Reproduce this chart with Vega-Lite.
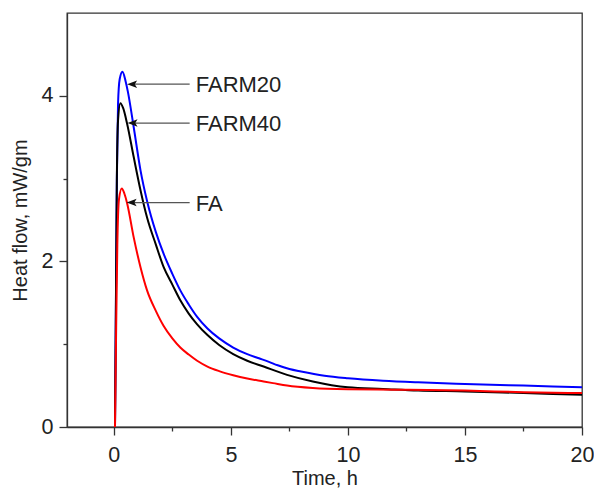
{
  "$schema": "https://vega.github.io/schema/vega-lite/v6.json",
  "width": 515,
  "height": 414,
  "autosize": "none",
  "padding": {"left": 67, "top": 13, "right": 12, "bottom": 62},
  "background": "white",
  "config": {
    "view": {"stroke": "#333", "strokeWidth": 1.3},
    "font": "Liberation Sans",
    "axis": {
      "grid": false,
      "domainColor": "#333",
      "domainWidth": 1.3,
      "tickColor": "#333",
      "tickWidth": 1.3,
      "labelColor": "#222",
      "titleColor": "#222",
      "labelFont": "Liberation Sans",
      "titleFont": "Liberation Sans",
      "labelFontSize": 21.5,
      "titleFontSize": 20,
      "titleFontWeight": "normal"
    }
  },
  "datasets": {
    "curves": [
      {"s": "FARM20", "t": 0.05, "v": 0}, {"s": "FARM20", "t": 0.09, "v": 1.5}, {"s": "FARM20", "t": 0.13, "v": 3.0}, {"s": "FARM20", "t": 0.18, "v": 3.9}, {"s": "FARM20", "t": 0.25, "v": 4.2}, {"s": "FARM20", "t": 0.37, "v": 4.29}, {"s": "FARM20", "t": 0.5, "v": 4.18}, {"s": "FARM20", "t": 0.6, "v": 4.05}, {"s": "FARM20", "t": 0.85, "v": 3.62}, {"s": "FARM20", "t": 1.14, "v": 3.10}, {"s": "FARM20", "t": 1.42, "v": 2.73}, {"s": "FARM20", "t": 1.8, "v": 2.35}, {"s": "FARM20", "t": 2.13, "v": 2.09}, {"s": "FARM20", "t": 2.5, "v": 1.85}, {"s": "FARM20", "t": 2.84, "v": 1.65}, {"s": "FARM20", "t": 3.2, "v": 1.48}, {"s": "FARM20", "t": 3.56, "v": 1.33}, {"s": "FARM20", "t": 4.0, "v": 1.19}, {"s": "FARM20", "t": 4.5, "v": 1.07}, {"s": "FARM20", "t": 5.1, "v": 0.96}, {"s": "FARM20", "t": 5.7, "v": 0.88}, {"s": "FARM20", "t": 6.2, "v": 0.83}, {"s": "FARM20", "t": 6.6, "v": 0.79}, {"s": "FARM20", "t": 7.0, "v": 0.745}, {"s": "FARM20", "t": 7.5, "v": 0.70}, {"s": "FARM20", "t": 8.0, "v": 0.67}, {"s": "FARM20", "t": 9.0, "v": 0.62}, {"s": "FARM20", "t": 10.0, "v": 0.59}, {"s": "FARM20", "t": 11.5, "v": 0.56}, {"s": "FARM20", "t": 13.0, "v": 0.54}, {"s": "FARM20", "t": 15.0, "v": 0.52}, {"s": "FARM20", "t": 17.5, "v": 0.50}, {"s": "FARM20", "t": 20.0, "v": 0.48},
      {"s": "FARM40", "t": 0.05, "v": 0}, {"s": "FARM40", "t": 0.09, "v": 1.5}, {"s": "FARM40", "t": 0.13, "v": 3.0}, {"s": "FARM40", "t": 0.18, "v": 3.7}, {"s": "FARM40", "t": 0.28, "v": 3.91}, {"s": "FARM40", "t": 0.4, "v": 3.85}, {"s": "FARM40", "t": 0.57, "v": 3.66}, {"s": "FARM40", "t": 0.85, "v": 3.26}, {"s": "FARM40", "t": 1.14, "v": 2.86}, {"s": "FARM40", "t": 1.42, "v": 2.53}, {"s": "FARM40", "t": 1.8, "v": 2.2}, {"s": "FARM40", "t": 2.13, "v": 1.93}, {"s": "FARM40", "t": 2.5, "v": 1.72}, {"s": "FARM40", "t": 2.84, "v": 1.53}, {"s": "FARM40", "t": 3.2, "v": 1.37}, {"s": "FARM40", "t": 3.56, "v": 1.24}, {"s": "FARM40", "t": 4.0, "v": 1.11}, {"s": "FARM40", "t": 4.5, "v": 0.99}, {"s": "FARM40", "t": 5.1, "v": 0.88}, {"s": "FARM40", "t": 5.7, "v": 0.80}, {"s": "FARM40", "t": 6.4, "v": 0.73}, {"s": "FARM40", "t": 7.4, "v": 0.63}, {"s": "FARM40", "t": 8.5, "v": 0.55}, {"s": "FARM40", "t": 10.0, "v": 0.48}, {"s": "FARM40", "t": 11.5, "v": 0.46}, {"s": "FARM40", "t": 13.0, "v": 0.44}, {"s": "FARM40", "t": 15.0, "v": 0.43}, {"s": "FARM40", "t": 17.5, "v": 0.41}, {"s": "FARM40", "t": 20.0, "v": 0.39},
      {"s": "FA", "t": 0.05, "v": 0}, {"s": "FA", "t": 0.1, "v": 1.2}, {"s": "FA", "t": 0.15, "v": 2.2}, {"s": "FA", "t": 0.22, "v": 2.75}, {"s": "FA", "t": 0.34, "v": 2.88}, {"s": "FA", "t": 0.45, "v": 2.82}, {"s": "FA", "t": 0.57, "v": 2.70}, {"s": "FA", "t": 0.85, "v": 2.29}, {"s": "FA", "t": 1.14, "v": 1.93}, {"s": "FA", "t": 1.42, "v": 1.65}, {"s": "FA", "t": 1.8, "v": 1.40}, {"s": "FA", "t": 2.13, "v": 1.22}, {"s": "FA", "t": 2.5, "v": 1.07}, {"s": "FA", "t": 2.84, "v": 0.96}, {"s": "FA", "t": 3.2, "v": 0.875}, {"s": "FA", "t": 3.56, "v": 0.80}, {"s": "FA", "t": 4.0, "v": 0.73}, {"s": "FA", "t": 4.5, "v": 0.675}, {"s": "FA", "t": 5.1, "v": 0.625}, {"s": "FA", "t": 5.7, "v": 0.585}, {"s": "FA", "t": 6.4, "v": 0.55}, {"s": "FA", "t": 6.8, "v": 0.53}, {"s": "FA", "t": 7.4, "v": 0.50}, {"s": "FA", "t": 8.5, "v": 0.47}, {"s": "FA", "t": 10.0, "v": 0.455}, {"s": "FA", "t": 12.0, "v": 0.45}, {"s": "FA", "t": 15.0, "v": 0.44}, {"s": "FA", "t": 17.5, "v": 0.42}, {"s": "FA", "t": 20.0, "v": 0.41}
    ],
    "labels": [
      {"label": "FARM20", "tip": 0.78, "end": 3.24, "tx": 3.5, "y": 4.14},
      {"label": "FARM40", "tip": 0.8, "end": 3.24, "tx": 3.5, "y": 3.67},
      {"label": "FA", "tip": 0.76, "end": 3.24, "tx": 3.5, "y": 2.71}
    ]
  },
  "layer": [
    {
      "data": {"name": "curves"},
      "mark": {"type": "line", "strokeWidth": 2, "interpolate": "monotone", "clip": true},
      "encoding": {
        "x": {
          "field": "t", "type": "quantitative",
          "scale": {"domain": [-2, 20], "nice": false, "zero": false},
          "axis": {
            "title": "Time, h",
            "values": [0, 2.5, 5, 7.5, 10, 12.5, 15, 17.5, 20],
            "labelExpr": "datum.value % 5 === 0 ? format(datum.value, 'd') : ''",
            "tickSize": {"condition": {"test": "datum.value % 5 === 0", "value": 8}, "value": 4},
            "labelPadding": 9,
            "titlePadding": 3,
            "labelFlush": false
          }
        },
        "y": {
          "field": "v", "type": "quantitative",
          "scale": {"domain": [0, 5], "nice": false},
          "axis": {
            "title": "Heat flow, mW/gm",
            "values": [0, 1, 2, 3, 4],
            "labelExpr": "datum.value % 2 === 0 ? format(datum.value, 'd') : ''",
            "tickSize": {"condition": {"test": "datum.value % 2 === 0", "value": 8}, "value": 4},
            "labelPadding": 6,
            "titlePadding": 11
          }
        },
        "color": {
          "field": "s", "type": "nominal",
          "scale": {"domain": ["FARM20", "FARM40", "FA"], "range": ["#0000ff", "#000000", "#ff0000"]},
          "legend": null
        }
      }
    },
    {
      "data": {"name": "labels"},
      "mark": {"type": "rule", "color": "#555", "strokeWidth": 1.3},
      "encoding": {
        "x": {"field": "tip", "type": "quantitative"},
        "x2": {"field": "end"},
        "y": {"field": "y", "type": "quantitative"}
      }
    },
    {
      "data": {"name": "labels"},
      "mark": {"type": "point", "filled": true, "color": "#111", "opacity": 1, "size": 100, "shape": "M-1,0L1,-0.75L0.55,0L1,0.75Z"},
      "encoding": {
        "x": {"field": "tip", "type": "quantitative"},
        "y": {"field": "y", "type": "quantitative"}
      }
    },
    {
      "data": {"name": "labels"},
      "mark": {"type": "text", "align": "left", "baseline": "middle", "font": "Liberation Sans", "fontSize": 22, "color": "#222", "dy": 1},
      "encoding": {
        "x": {"field": "tx", "type": "quantitative"},
        "y": {"field": "y", "type": "quantitative"},
        "text": {"field": "label"}
      }
    }
  ]
}
